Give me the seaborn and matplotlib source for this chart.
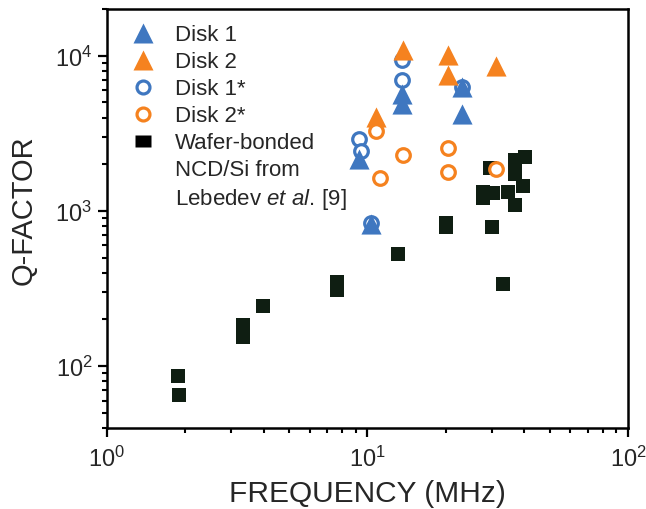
import matplotlib
matplotlib.use('Agg')
import matplotlib.pyplot as plt
from matplotlib.lines import Line2D
from matplotlib.ticker import NullFormatter
import seaborn as sns

# Disk resonances: frequency (MHz) and Q-factor
disk1_freq = [9.30, 10.31, 13.53, 13.53, 22.99, 22.99]
disk1_q = [2165, 825, 5686, 4900, 6250, 4225]
disk2_freq = [10.78, 13.72, 20.43, 20.43, 31.14]
disk2_q = [4023, 10820, 10046, 7464, 8580]
disk1s_freq = [9.30, 9.44, 10.31, 13.53, 13.53, 22.99]
disk1s_q = [2914, 2449, 835, 9327, 6929, 6330]
disk2s_freq = [10.78, 11.17, 13.72, 20.32, 20.32, 31.14]
disk2s_q = [3298, 1630, 2297, 2538, 1793, 1866]

# Wafer-bonded NCD/Si (Lebedev et al.)
ref_freq = [1.88, 1.89, 3.34, 3.34, 3.96, 7.62, 7.62, 13.13, 20.0, 20.0,
            29.98, 33.2, 29.5, 36.8, 36.8, 40.2, 39.4, 27.83, 27.83, 30.2,
            34.7, 37.0]
ref_q = [86.6, 65.3, 184, 154, 243, 351, 308, 528, 837, 788,
         785, 338, 1894, 2117, 1728, 2241, 1450, 1316, 1204, 1300,
         1320, 1096]

blue = '#3f77c0'
orange = '#f5821f'
square_col = '#0f1e12'

sns.set_style('ticks')
plt.rcParams['font.family'] = ['Liberation Sans', 'DejaVu Sans']
plt.rcParams['mathtext.fontset'] = 'custom'
plt.rcParams['mathtext.rm'] = 'Liberation Sans'
plt.rcParams['mathtext.it'] = 'Liberation Sans:italic'

fig = plt.figure(figsize=(6.46, 5.10), dpi=100)
ax = fig.add_axes([0.1656, 0.1588, 0.8065, 0.8216])

# draw order: squares, Disk 1*, Disk 1, Disk 2, Disk 2*
sns.scatterplot(x=ref_freq, y=ref_q, marker='s', s=88, color=square_col,
                linewidth=0, ax=ax, zorder=2)
sns.scatterplot(x=disk1s_freq, y=disk1s_q, marker='o', s=96, facecolor='white',
                edgecolor=blue, linewidth=2.3, ax=ax, zorder=3)
sns.scatterplot(x=disk1_freq, y=disk1_q, marker='^', s=210, color=blue,
                linewidth=0, ax=ax, zorder=4)
sns.scatterplot(x=disk2_freq, y=disk2_q, marker='^', s=210, color=orange,
                linewidth=0, ax=ax, zorder=5)
sns.scatterplot(x=disk2s_freq, y=disk2s_q, marker='o', s=96, facecolor='white',
                edgecolor=orange, linewidth=2.3, ax=ax, zorder=6)

ax.set_xscale('log')
ax.set_yscale('log')
ax.set_xlim(1, 100)
ax.set_ylim(40, 2e4)
ax.xaxis.set_minor_formatter(NullFormatter())
ax.yaxis.set_minor_formatter(NullFormatter())

for side in ['left', 'right', 'top', 'bottom']:
    ax.spines[side].set_linewidth(1.8)
    ax.spines[side].set_color('black')
ax.tick_params(which='major', direction='out', length=6.5, width=1.6,
               labelsize=17, pad=4, color='black')
ax.tick_params(axis='x', which='major', pad=6)
ax.tick_params(which='minor', direction='out', length=3.5, width=1.5, color='black')
ax.tick_params(top=False, right=False, which='both')

ax.set_xlabel('FREQUENCY (MHz)', fontsize=21.5, labelpad=6)
ax.set_ylabel('Q-FACTOR', fontsize=21)
ax.yaxis.set_label_coords(-0.134, 0.523)

# legend (reference label split over three rows)
rect = [(-1, -0.76), (1, -0.76), (1, 0.76), (-1, 0.76), (-1, -0.76)]
handles = [
    Line2D([], [], ls='none', marker='^', markersize=14.5, color=blue, mec='none'),
    Line2D([], [], ls='none', marker='^', markersize=14.5, color=orange, mec='none'),
    Line2D([], [], ls='none', marker='o', markersize=9.3, mfc='white', mec=blue, mew=2.3),
    Line2D([], [], ls='none', marker='o', markersize=9.3, mfc='white', mec=orange, mew=2.3),
    Line2D([], [], ls='none', marker=rect, markersize=12.2, color='black', mec='none'),
    Line2D([], [], ls='none'),
    Line2D([], [], ls='none'),
]
labels = ['Disk 1', 'Disk 2', 'Disk 1*', 'Disk 2*', 'Wafer-bonded',
          'NCD/Si from', r'Lebedev $\mathit{et\ al.}\,$[9]']
ax.legend(handles, labels, loc='upper left', bbox_to_anchor=(0.0436, 0.963),
          frameon=False, fontsize=16, handlelength=1.2, handletextpad=0.84,
          labelspacing=0.27, borderpad=0, borderaxespad=0)

fig.savefig('out.png', dpi=100)
